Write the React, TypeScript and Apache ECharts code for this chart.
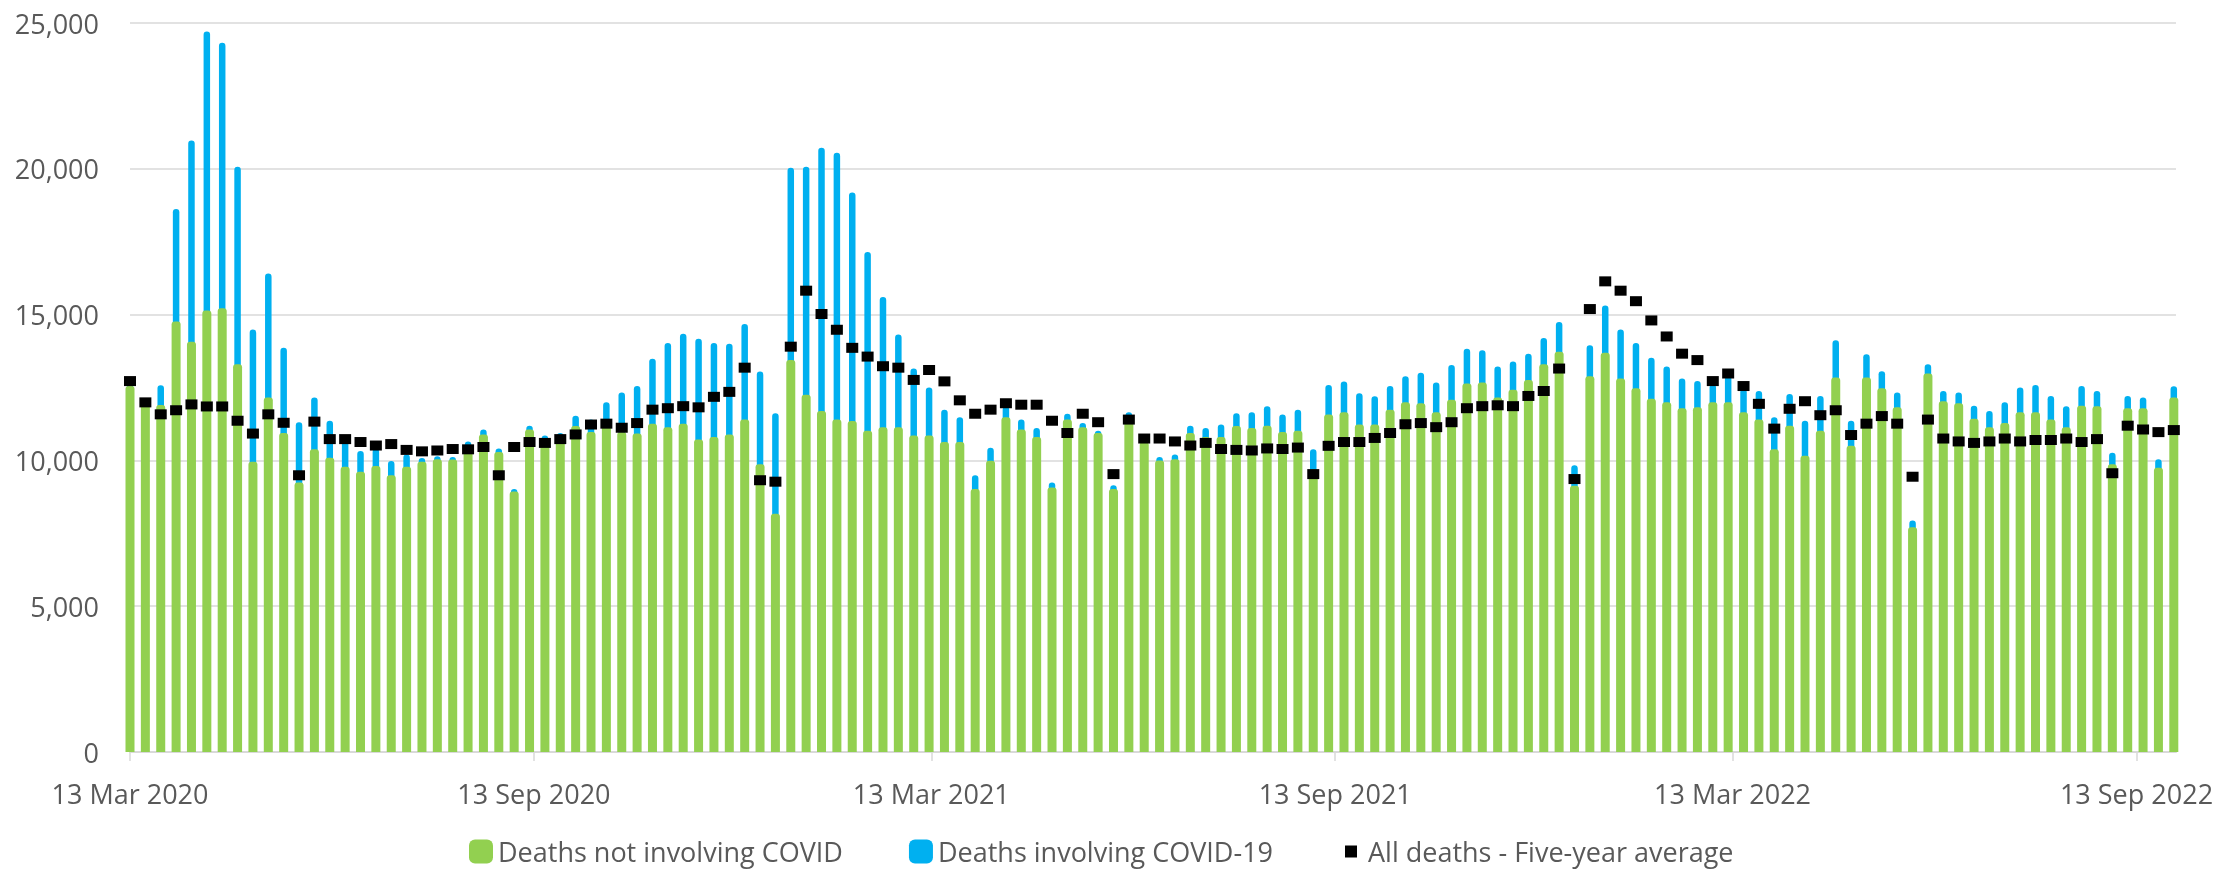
import React, { useEffect, useRef } from 'react';
import * as echarts from 'echarts';

// Week-ending dates (Fridays)
const WEEK_ENDING = [
  '2020-03-13','2020-03-20','2020-03-27','2020-04-03','2020-04-10','2020-04-17','2020-04-24','2020-05-01','2020-05-08','2020-05-15',
  '2020-05-22','2020-05-29','2020-06-05','2020-06-12','2020-06-19','2020-06-26','2020-07-03','2020-07-10','2020-07-17','2020-07-24',
  '2020-07-31','2020-08-07','2020-08-14','2020-08-21','2020-08-28','2020-09-04','2020-09-11','2020-09-18','2020-09-25','2020-10-02',
  '2020-10-09','2020-10-16','2020-10-23','2020-10-30','2020-11-06','2020-11-13','2020-11-20','2020-11-27','2020-12-04','2020-12-11',
  '2020-12-18','2020-12-25','2021-01-01','2021-01-08','2021-01-15','2021-01-22','2021-01-29','2021-02-05','2021-02-12','2021-02-19',
  '2021-02-26','2021-03-05','2021-03-12','2021-03-19','2021-03-26','2021-04-02','2021-04-09','2021-04-16','2021-04-23','2021-04-30',
  '2021-05-07','2021-05-14','2021-05-21','2021-05-28','2021-06-04','2021-06-11','2021-06-18','2021-06-25','2021-07-02','2021-07-09',
  '2021-07-16','2021-07-23','2021-07-30','2021-08-06','2021-08-13','2021-08-20','2021-08-27','2021-09-03','2021-09-10','2021-09-17',
  '2021-09-24','2021-10-01','2021-10-08','2021-10-15','2021-10-22','2021-10-29','2021-11-05','2021-11-12','2021-11-19','2021-11-26',
  '2021-12-03','2021-12-10','2021-12-17','2021-12-24','2021-12-31','2022-01-07','2022-01-14','2022-01-21','2022-01-28','2022-02-04',
  '2022-02-11','2022-02-18','2022-02-25','2022-03-04','2022-03-11','2022-03-18','2022-03-25','2022-04-01','2022-04-08','2022-04-15',
  '2022-04-22','2022-04-29','2022-05-06','2022-05-13','2022-05-20','2022-05-27','2022-06-03','2022-06-10','2022-06-17','2022-06-24',
  '2022-07-01','2022-07-08','2022-07-15','2022-07-22','2022-07-29','2022-08-05','2022-08-12','2022-08-19','2022-08-26','2022-09-02',
  '2022-09-09','2022-09-16','2022-09-23','2022-09-30'
];

const NOT_COVID = [
  12550,11950,11900,14760,14070,15140,15220,13300,9950,12160,
  10940,9240,10380,10090,9780,9610,9810,9490,9780,9950,
  10040,10030,10380,10890,10290,8930,11060,10720,10800,11180,
  10970,11180,10970,10920,11260,11140,11260,10720,10800,10890,
  11400,9870,8170,13440,12250,11690,11400,11350,11020,11140,
  11140,10850,10850,10630,10630,9020,9990,11480,11060,10800,
  9070,11400,11140,10940,9020,11480,10630,10000,10040,10940,
  10800,10800,11180,11110,11190,10970,11020,9700,11570,11650,
  11230,11230,11740,11990,11960,11650,12080,12640,12670,12160,
  12420,12760,13300,13730,9130,12890,13690,12810,12470,12110,
  11990,11790,11820,11990,11990,11650,11400,10380,11190,10160,
  11020,12840,10500,12840,12470,11820,7710,12980,12030,11960,
  11430,11140,11280,11650,11650,11400,11140,11870,11860,9870,
  11790,11790,9750,12160
];

const COVID = [
  50,100,680,3860,6900,9570,9100,6770,4540,4250,
  2920,2070,1780,1270,970,710,590,490,420,130,
  100,90,270,170,120,90,130,130,140,350,
  430,810,1360,1630,2230,2890,3080,3450,3230,3110,
  3280,3180,3450,6600,7820,9030,9150,7840,6130,4460,
  3180,2300,1650,1110,850,470,440,370,340,310,
  170,200,140,80,130,170,70,120,160,250,
  310,430,440,540,670,600,720,680,1020,1060,
  1070,970,810,900,1050,1020,1190,1190,1110,1060,
  970,900,900,1020,700,1060,1620,1680,1560,1410,
  1230,1020,900,610,910,800,980,1100,1090,1200,
  1190,1280,860,800,590,510,230,320,350,370,
  440,550,710,850,940,810,720,680,520,390,
  420,370,290,380
];

const FIVE_YEAR_AVG = [
  12720,11990,11580,11720,11920,11850,11850,11360,10920,11580,
  11290,9490,11330,10730,10730,10630,10510,10560,10360,10310,
  10340,10390,10380,10460,9490,10460,10630,10600,10730,10890,
  11230,11260,11120,11280,11740,11790,11860,11820,12180,12350,
  13180,9320,9270,13900,15820,15020,14480,13860,13560,13230,
  13180,12760,13100,12710,12060,11600,11740,11960,11910,11910,
  11360,10940,11600,11310,9530,11400,10750,10750,10650,10510,
  10600,10390,10360,10340,10410,10390,10440,9530,10500,10630,
  10630,10770,10940,11240,11280,11140,11310,11790,11860,11890,
  11860,12210,12380,13150,9360,15190,16140,15820,15460,14800,
  14250,13660,13440,12720,12980,12550,11940,11090,11770,12030,
  11550,11720,10870,11260,11520,11260,9440,11400,10750,10650,
  10600,10650,10750,10650,10700,10700,10750,10630,10730,9560,
  11190,11060,10970,11040
];

const TICK_DATES = ['2020-03-13', '2020-09-13', '2021-03-13', '2021-09-13', '2022-03-13', '2022-09-13'];
const TICK_LABELS = ['13 Mar 2020', '13 Sep 2020', '13 Mar 2021', '13 Sep 2021', '13 Mar 2022', '13 Sep 2022'];
const AXIS_START = '2020-03-13';
const AXIS_END = '2022-10-01';

const SERIES_NAMES = ['Deaths not involving COVID', 'Deaths involving COVID-19', 'All deaths - Five-year average'];

const GREEN = '#92d050';
const BLUE = '#00b0f0';
const TEXT = '#595959';
const GRID = '#d9d9d9';
const FONT = '"Open Sans", "Noto Sans", sans-serif';

function ts(s: string): number {
  const [y, m, d] = s.split('-').map(Number);
  return Date.UTC(y, m - 1, d);
}

export default function App() {
  const ref = useRef<HTMLDivElement>(null);

  useEffect(() => {
    document.body.style.margin = '0';
    if (!ref.current) return;
    const chart = echarts.init(ref.current, undefined, { renderer: 'svg' });

    const tickTs = TICK_DATES.map(ts);
    const weekTs = WEEK_ENDING.map(ts);

    const greenData = weekTs.map((t, i) => [t, NOT_COVID[i]]);
    const blueData = weekTs.map((t, i) => [t, NOT_COVID[i], NOT_COVID[i] + COVID[i]]);
    const avgData = weekTs.map((t, i) => [t, FIVE_YEAR_AVG[i]]);

    const option: any = {
      animation: false,
      textStyle: { fontFamily: FONT },
      grid: { left: 130, right: 58, top: 23, bottom: 120 },
      legend: {
        left: 469,
        top: 838,
        padding: 0,
        itemWidth: 24,
        itemHeight: 24,
        itemGap: 66,
        textStyle: { fontSize: 27, color: TEXT, fontFamily: FONT },
        data: [
          { name: SERIES_NAMES[0], icon: 'roundRect', itemStyle: { color: GREEN, opacity: 1 } },
          { name: SERIES_NAMES[1], icon: 'roundRect', itemStyle: { color: BLUE, opacity: 1 } },
          { name: SERIES_NAMES[2], icon: 'path://M0,0M24,24M6,6h12v12h-12z', itemStyle: { color: '#000000', opacity: 1 } },
        ],
      },
      xAxis: {
        type: 'value',
        min: ts(AXIS_START),
        max: ts(AXIS_END),
        axisLine: { show: true, onZero: false, lineStyle: { color: GRID, width: 2 } },
        axisTick: { show: true, length: 9, lineStyle: { color: GRID, width: 1.5 }, customValues: tickTs },
        axisLabel: {
          customValues: tickTs,
          margin: 28,
          fontSize: 27,
          color: TEXT,
          fontFamily: FONT,
          formatter: (v: number) => {
            const idx = tickTs.indexOf(v);
            return idx >= 0 ? TICK_LABELS[idx] : '';
          },
        },
        splitLine: { show: false },
      },
      yAxis: {
        type: 'value',
        min: 0,
        max: 25000,
        interval: 5000,
        axisLine: { show: false },
        axisTick: { show: false },
        axisLabel: {
          margin: 31,
          fontSize: 27,
          color: TEXT,
          fontFamily: FONT,
          formatter: (v: number) => v.toLocaleString('en-US'),
        },
        splitLine: { lineStyle: { color: GRID, width: 1.5 } },
      },
      series: [
        {
          name: SERIES_NAMES[0],
          type: 'bar',
          barWidth: 9,
          clip: false,
          itemStyle: { color: GREEN, borderRadius: [3, 3, 0, 0] },
          data: greenData,
        },
        {
          name: SERIES_NAMES[1],
          type: 'custom',
          clip: false,
          itemStyle: { color: BLUE },
          encode: { x: 0, y: [1, 2] },
          renderItem: (params: any, api: any) => {
            const x = api.value(0);
            const lo = api.value(1);
            const hi = api.value(2);
            const p1 = api.coord([x, lo]);
            const p2 = api.coord([x, hi]);
            const w = 6.5;
            const h = Math.max(p1[1] - p2[1], 0);
            return {
              type: 'rect',
              shape: { x: p1[0] - w / 2, y: p2[1], width: w, height: h + 2, r: [3.2, 3.2, 0, 0] },
              style: { fill: BLUE },
            };
          },
          data: blueData,
        },
        {
          name: SERIES_NAMES[2],
          type: 'scatter',
          symbol: 'rect',
          symbolSize: [12, 10],
          itemStyle: { color: '#000000', opacity: 1 },
          z: 5,
          data: avgData,
        },
      ],
    };

    chart.setOption(option);
    return () => chart.dispose();
  }, []);

  return <div ref={ref} style={{ position: 'fixed', left: 0, top: 0, width: 2234, height: 872 }} />;
}
